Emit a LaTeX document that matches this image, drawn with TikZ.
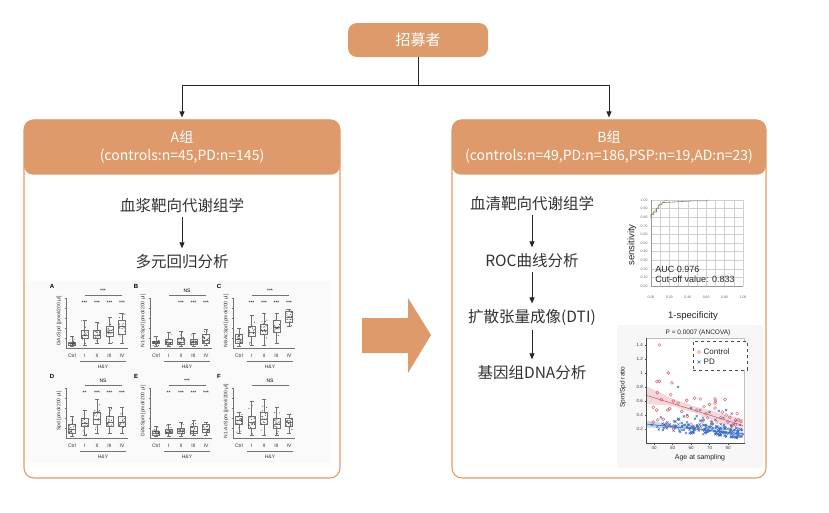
\documentclass[tikz,border=0pt]{standalone}
\usepackage{fontspec}
\setmainfont{Noto Sans CJK SC}
\newfontfamily\plotfont{Liberation Sans}
\usetikzlibrary{arrows.meta}

\definecolor{hdrorange}{RGB}{222,154,106}
\definecolor{lineorange}{RGB}{233,152,96}
\definecolor{ctrlred}{RGB}{214,98,112}
\definecolor{pdblue}{RGB}{58,108,196}

\tikzset{
  hdr/.style={fill=hdrorange, rounded corners=9pt, text=white, align=center, inner sep=0pt},
  hdrfont/.style={font=\fontsize{14}{18}\selectfont},
  panel/.style={draw=lineorange, line width=1.1pt, fill=white, rounded corners=10pt, inner sep=0pt},
  stepnode/.style={text=black!80, font=\fontsize{15.5}{18}\selectfont},
  conn/.style={draw=black!85, line width=0.8pt},
  flow/.style={conn, -{Triangle[length=6pt,width=5pt]}},
  bigarrow/.style={fill=hdrorange},
  bxw/.style={draw=black!55, line width=0.35pt},
  bxdot/.style={fill=black!70},
  axl/.style={draw=black!55, line width=0.35pt},
  bxtext/.style={font=\plotfont\fontsize{5}{6}\selectfont, text=black!80, inner sep=0.5pt},
  bxletter/.style={font=\plotfont\bfseries\fontsize{6}{7}\selectfont, inner sep=0.5pt},
  bxstar/.style={font=\plotfont\fontsize{5}{6}\selectfont, inner sep=0.5pt},
  rocgrid/.style={draw=black!18, line width=0.3pt},
  rocticks/.style={font=\plotfont\fontsize{3.5}{4}\selectfont, text=black!60, inner sep=0.5pt},
  plotlabel/.style={font=\plotfont\fontsize{9.5}{11}\selectfont, text=black!85, inner sep=0.5pt},
  scticks/.style={font=\plotfont\fontsize{4.5}{5}\selectfont, text=black!75, inner sep=0.5pt},
  sclabel/.style={font=\plotfont\fontsize{7}{8}\selectfont, text=black!85, inner sep=0.5pt},
  ctrlmark/.style={draw=ctrlred, line width=0.45pt},
  pdmark/.style={draw=pdblue, line width=0.45pt}
}

\newcommand\bxframe[4]{%
  \node[bxletter] (#1l) at (0,0) {#2};
  \node[bxtext, rotate=90] (#1y) at (7,35) {#3};
  \draw[axl] (14,12) -- (14,62) -- (76,62);
  \foreach \t in {1,...,5} \draw[axl] (12.5,{62-10*\t}) -- (14,{62-10*\t});
  \foreach \c [count=\n from 0] in {Ctrl,I,II,III,IV} \node[bxtext] (#1t\n) at ({20+12.5*\n},70) {\c};
  \draw[axl] (28,75) -- (74,75);
  \node[bxtext] (#1h) at (51,81) {H\&Y};
  \draw[axl] (32.5,9) -- (70,9);
  \node[bxstar] (#1s) at (51,5) {#4};
}

\newcommand\bxcat[6]{%
  \pgfmathsetmacro\cx{20+12.5*#1}
  \draw[bxw] (\cx,{61-42*#2}) -- (\cx,{61-42*#3}) (\cx,{61-42*#5}) -- (\cx,{61-42*#6})
    ({\cx-2},{61-42*#2}) -- ({\cx+2},{61-42*#2}) ({\cx-2},{61-42*#6}) -- ({\cx+2},{61-42*#6});
  \draw[bxw] ({\cx-3.5},{61-42*#3}) rectangle ({\cx+3.5},{61-42*#5});
  \draw[bxw] ({\cx-3.5},{61-42*#4}) -- ({\cx+3.5},{61-42*#4});
  \foreach \k in {1,...,13}{\fill[bxdot] ({\cx+3.2*rand},{61-42*(#3+(#5-#3)*rnd)}) circle (0.55pt);}
  \foreach \k in {1,...,6}{\fill[bxdot] ({\cx+3*rand},{61-42*(#2+(#6-#2)*rnd)}) circle (0.55pt);}
}

\begin{document}
\begin{tikzpicture}[x=1pt, y=-1pt]
\useasboundingbox (0,0) rectangle (829,512);
\fill[white] (0,0) rectangle (829,512);

\node[hdr, minimum width=140pt, minimum height=34pt, font=\fontsize{15}{18}\selectfont] (rec) at (418,40) {招募者};

\node[panel, minimum width=316pt, minimum height=358pt] (pa) at (182,299) {};
\node[hdr, hdrfont, minimum width=316pt, minimum height=55pt, anchor=north] (ha) at (pa.north) {A组\\(controls:n=45,PD:n=145)};
\node[panel, minimum width=314pt, minimum height=358pt] (pb) at (609,299) {};
\node[hdr, hdrfont, minimum width=314pt, minimum height=55pt, anchor=north] (hb) at (pb.north) {B组\\(controls:n=49,PD:n=186,PSP:n=19,AD:n=23)};

\coordinate (sp) at (418,85);
\coordinate (spa) at (182,85);
\coordinate (spb) at (609,85);
\draw[conn] (rec.south) -- (sp);
\draw[flow, shorten >=2pt] (sp) -- (spa) -- (ha.north);
\draw[flow, shorten >=2pt] (sp) -- (spb) -- (hb.north);

\node[stepnode] (la) at (182,206) {血浆靶向代谢组学};
\node[stepnode] (lb) at (182,262) {多元回归分析};
\draw[flow, shorten >=3pt] (la) -- (lb);

\node[stepnode] (ra) at (532,204) {血清靶向代谢组学};
\node[stepnode] (rb) at (532,261) {ROC曲线分析};
\node[stepnode] (rc) at (532,318) {扩散张量成像(DTI)};
\node[stepnode] (rd) at (532,373) {基因组DNA分析};
\draw[flow, shorten >=3pt] (ra) -- (rb);
\draw[flow, shorten >=3pt] (rb) -- (rc);
\draw[flow, shorten >=3pt] (rc) -- (rd);

\fill[bigarrow] (362,318) -- (408,318) -- (408,298) -- (431,335) -- (408,373) -- (408,353) -- (362,353) -- cycle;

\fill[black!2] (28,281) rectangle (331,463);
\pgfmathsetseed{11}
\begin{scope}[shift={(52,286)}]
  \bxframe{pA}{A}{DiAcSpd [pmol/200 μl]}{***}
  \bxcat{0}{0.02}{0.05}{0.08}{0.12}{0.25}
  \bxcat{1}{0.05}{0.20}{0.28}{0.40}{0.65}
  \bxcat{2}{0.08}{0.20}{0.28}{0.40}{0.60}
  \bxcat{3}{0.10}{0.25}{0.35}{0.50}{0.70}
  \bxcat{4}{0.10}{0.30}{0.50}{0.65}{0.80}
  \foreach \n in {1,...,4} \node[bxstar] (pAs\n) at ({20+12.5*\n},17) {***};
\end{scope}
\begin{scope}[shift={(136,286)}]
  \bxframe{pB}{B}{N1-AcSpd [pmol/200 μl]}{NS}
  \bxcat{0}{0.03}{0.08}{0.11}{0.15}{0.25}
  \bxcat{1}{0.02}{0.07}{0.11}{0.18}{0.35}
  \bxcat{2}{0.02}{0.07}{0.12}{0.22}{0.38}
  \bxcat{3}{0.03}{0.07}{0.11}{0.18}{0.32}
  \bxcat{4}{0.05}{0.10}{0.16}{0.30}{0.42}
  \foreach \n in {2,...,4} \node[bxstar] (pBs\n) at ({20+12.5*\n},17) {***};
\end{scope}
\begin{scope}[shift={(219,286)}]
  \bxframe{pC}{C}{N8-AcSpd [pmol/200 μl]}{***}
  \bxcat{0}{0.03}{0.10}{0.18}{0.30}{0.45}
  \bxcat{1}{0.05}{0.25}{0.36}{0.50}{0.75}
  \bxcat{2}{0.05}{0.30}{0.40}{0.55}{0.80}
  \bxcat{3}{0.10}{0.35}{0.48}{0.65}{0.80}
  \bxcat{4}{0.50}{0.60}{0.72}{0.85}{0.90}
  \foreach \n in {1,...,4} \node[bxstar] (pCs\n) at ({20+12.5*\n},17) {***};
\end{scope}
\begin{scope}[shift={(52,376)}]
  \bxframe{pD}{D}{Spd [pmol/200 μl]}{NS}
  \bxcat{0}{0.03}{0.10}{0.18}{0.30}{0.50}
  \bxcat{1}{0.05}{0.25}{0.33}{0.45}{0.65}
  \bxcat{2}{0.10}{0.30}{0.42}{0.60}{0.90}
  \bxcat{3}{0.10}{0.25}{0.35}{0.50}{0.70}
  \bxcat{4}{0.10}{0.25}{0.35}{0.50}{0.70}
  \foreach \n/\s in {1/**,2/***,3/***,4/***} \node[bxstar] (pDs\n) at ({20+12.5*\n},17) {\s};
\end{scope}
\begin{scope}[shift={(136,376)}]
  \bxframe{pE}{E}{DiAcSpm [pmol/200 μl]}{***}
  \bxcat{0}{0.02}{0.05}{0.09}{0.15}{0.25}
  \bxcat{1}{0.02}{0.08}{0.12}{0.18}{0.30}
  \bxcat{2}{0.03}{0.08}{0.13}{0.20}{0.35}
  \bxcat{3}{0.05}{0.10}{0.15}{0.25}{0.40}
  \bxcat{4}{0.05}{0.12}{0.18}{0.30}{0.35}
  \foreach \n/\s in {1/**,2/***,3/***,4/***} \node[bxstar] (pEs\n) at ({20+12.5*\n},17) {\s};
\end{scope}
\begin{scope}[shift={(219,376)}]
  \bxframe{pF}{F}{N1-AcSpm [pmol/200 μl]}{NS}
  \bxcat{0}{0.10}{0.30}{0.40}{0.50}{0.60}
  \bxcat{1}{0.05}{0.20}{0.35}{0.50}{0.85}
  \bxcat{2}{0.05}{0.30}{0.42}{0.60}{0.90}
  \bxcat{3}{0.05}{0.20}{0.30}{0.45}{0.70}
  \bxcat{4}{0.10}{0.25}{0.35}{0.45}{0.55}
\end{scope}

\begin{scope}[shift={(651,286)}, x=92pt, y=86pt]
  \foreach \g/\s in {0/0.00,1/0.10,2/0.20,3/0.30,4/0.40,5/0.50,6/0.60,7/0.70,8/0.80,9/0.90,10/1.00}{
    \draw[rocgrid] (\g/10,0) -- (\g/10,1);
    \draw[rocgrid] (0,\g/10) -- (1,\g/10);
    \node[rocticks, anchor=east] (ry\g) at (-0.03,\g/10) {\s};
  }
  \foreach \g/\s in {0/0.00,2/0.20,4/0.40,6/0.60,8/0.80,10/1.00}
    \node[rocticks] (rx\g) at (\g/10,-0.13) {\s};
  \draw[draw=black!40, line width=0.4pt] (0,0) -- (0,1) (0,0) -- (1,0);
  \draw[draw=green!45!yellow!70!black, line width=0.6pt, opacity=0.6] (0,0.82) -- (0.02,0.85) -- (0.06,0.90) -- (0.10,0.95) -- (0.15,0.99) -- (0.19,1.00);
  \draw[draw=black!50, line width=0.6pt] (0,0.79) -- (0,0.83) -- (0.03,0.83) -- (0.03,0.86) -- (0.06,0.86) -- (0.06,0.90) -- (0.08,0.90) -- (0.08,0.94) -- (0.12,0.95) -- (0.12,0.97) -- (0.30,0.98) -- (0.45,0.99) -- (0.60,0.99) -- (0.62,1.00);
  \node[plotlabel, anchor=west, font=\plotfont\fontsize{9}{10}\selectfont] (auc) at (0.04,0.19) {AUC 0.976};
  \node[plotlabel, anchor=west, font=\plotfont\fontsize{9}{10}\selectfont] (cut) at (0.04,0.08) {Cut-off value: 0.833};
\end{scope}
\node[plotlabel, rotate=90] (sens) at (632,245) {sensitivity};
\node[plotlabel] (spec) at (693,316) {1-specificity};

\fill[black!3] (617,325) rectangle (763,468);
\node[sclabel, font=\plotfont\fontsize{6.5}{7}\selectfont] (ptit) at (698,333) {P = 0.0007 (ANCOVA)};
\begin{scope}[shift={(654,443)}, x=1.85pt, y=70pt]
  \fill[white] (-4,0) rectangle (49,1.5);
  \draw[draw=black!25, line width=0.4pt] (-4,0) rectangle (49,1.5);
  \fill[ctrlred, opacity=0.25] (-4,0.81) -- (10,0.63) -- (22,0.525) -- (35,0.43) -- (48,0.34) -- (48,0.17) -- (35,0.30) -- (22,0.43) -- (10,0.53) -- (-4,0.56) -- cycle;
  \fill[pdblue, opacity=0.28] (-4,0.32) -- (15,0.24) -- (30,0.195) -- (48,0.16) -- (48,0.10) -- (30,0.165) -- (15,0.21) -- (-4,0.22) -- cycle;
  \draw[draw=ctrlred, line width=0.6pt] (-4,0.68) -- (48,0.25);
  \draw[draw=pdblue, line width=0.6pt] (-4,0.27) -- (48,0.13);
  \pgfmathsetseed{5}
  \foreach \k in {1,...,185}{
    \pgfmathsetmacro\aa{38+50*rnd^0.6}
    \pgfmathsetmacro\vv{max(0.04,0.27-0.0027*(\aa-36)+0.075*rand+0.15*rnd^6)}
    \draw[pdmark] (\aa-40,\vv) +(-1.1pt,-1.1pt) -- +(1.1pt,1.1pt) +(-1.1pt,1.1pt) -- +(1.1pt,-1.1pt);
  }
  \foreach \a/\v in {53/0.80,60/0.50,65/0.47,70/0.44,75/0.46,79/0.47,82/0.42,58/0.40}
    \draw[pdmark] (\a-40,\v) +(-1.1pt,-1.1pt) -- +(1.1pt,1.1pt) +(-1.1pt,1.1pt) -- +(1.1pt,-1.1pt);
  \foreach \a/\v in {42.9/1.40,41.6/0.88,42.9/0.88,47.7/1.00,49.7/0.86,41.8/0.72,49/0.69,39.6/0.51,41.4/0.47,47.5/0.47,48.5/0.49,50.4/0.60,53/0.57,57.7/0.61,62/0.64,65/0.63,67/0.52,73/0.63,73.2/0.60,73/0.57,78.4/0.62,73/0.50,79/0.40,80/0.30,82/0.24,84/0.26,84/0.33,85.5/0.33,74/0.30,69/0.36,42/0.33,45/0.34,39.6/0.30,47/0.26,50.5/0.20,60/0.27,64/0.20,85/0.42,68/0.42,71/0.31,76/0.36,44/0.62,55/0.45,58/0.38,63/0.47,77/0.44,81/0.37,87/0.31,70/0.55,66/0.30}
    \draw[ctrlmark] (\a-40,\v) circle (1.5pt);
  \draw[draw=black!70, line width=0.4pt] (-4,1.5) -- (-4,0) -- (49,0);
  \foreach \v [count=\i] in {0.2,0.4,0.6,0.8,1,1.2,1.4}{
    \draw[draw=black!70, line width=0.4pt] (-4,\v) -- ++(-2pt,0);
    \node[scticks, anchor=east] (sy\i) at ([xshift=-3pt]-4,\v) {\v};
  }
  \foreach \a in {40,50,...,80}{
    \draw[draw=black!70, line width=0.4pt] (\a-40,0) -- ++(0,-2pt);
    \node[scticks, anchor=north] (sx\a) at ([yshift=-3pt]\a-40,0) {\a};
  }
\end{scope}
\node[sclabel, rotate=90, font=\plotfont\fontsize{6.5}{7}\selectfont] (sylab) at (623,387) {Spm/Spd ratio};
\node[sclabel] (sxlab) at (700,458) {Age at sampling};
\node[draw=black!70, dashed, line width=0.4pt, fill=white, minimum width=54pt, minimum height=29pt, inner sep=0pt] (leg) at (720,355.5) {};
\draw[ctrlmark] (699,352) circle (1.6pt);
\node[sclabel, anchor=west, font=\plotfont\fontsize{8}{9}\selectfont] (legc) at (703,352) {Control};
\draw[pdmark] (699,362) +(-1.4pt,-1.4pt) -- +(1.4pt,1.4pt) +(-1.4pt,1.4pt) -- +(1.4pt,-1.4pt);
\node[sclabel, anchor=west, font=\plotfont\fontsize{8}{9}\selectfont] (legp) at (703,362) {PD};
\end{tikzpicture}
\end{document}
